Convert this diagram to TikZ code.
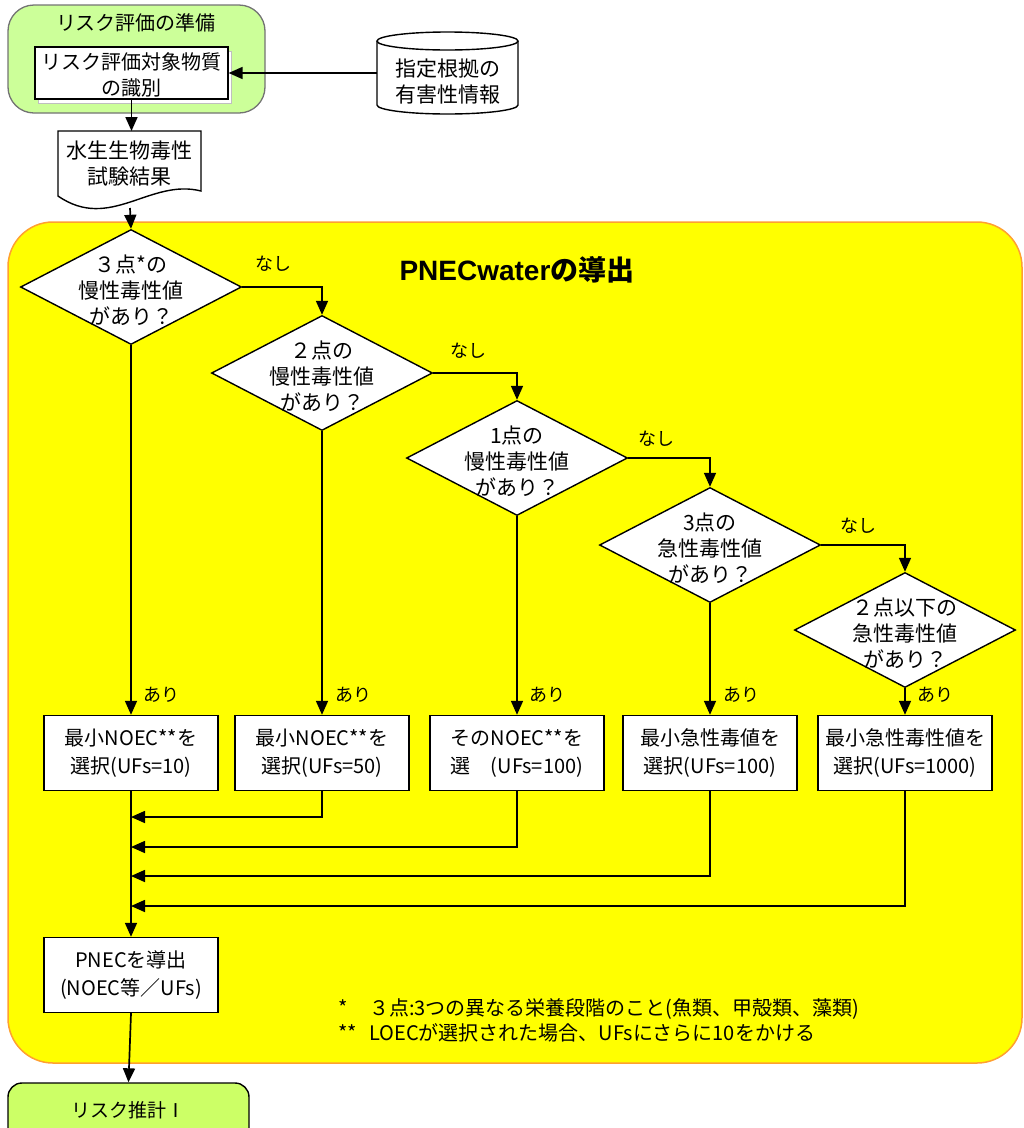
\documentclass[tikz,border=0pt]{standalone}
\usepackage{fontspec}
\setmainfont{Noto Sans CJK JP}
\newfontfamily\latbold{Liberation Sans Bold}
\usetikzlibrary{shapes.geometric,arrows.meta}
\definecolor{palegreen}{HTML}{CCFF99}
\definecolor{limegreen}{HTML}{CCFF66}
\definecolor{ylw}{HTML}{FFFF00}
\definecolor{orgline}{HTML}{FFA030}
\begin{document}
\begin{tikzpicture}[x=1pt,y=-1pt,
  conn/.style={line width=1.7pt},
  arr/.style={line width=1.7pt,-{Triangle[length=14pt,width=12pt]}},
  dia/.style={diamond,draw,fill=white,line width=1.4pt,minimum width=221pt,minimum height=115pt,inner sep=0pt},
  txt/.style={font=\fontsize{21}{26}\selectfont,align=center,inner sep=0pt},
  lbl/.style={font=\fontsize{18}{20}\selectfont,inner sep=0pt},
  resbox/.style={draw,fill=white,line width=1.4pt,minimum width=174pt,minimum height=75pt,inner sep=0pt,align=center,font=\fontsize{20}{28}\selectfont},
  note/.style={anchor=west,inner sep=0pt,font=\fontsize{20}{24}\selectfont}]
\clip (0,0) rectangle (1024,1128);
% top preparation box
\node[draw=black!55,line width=1.3pt,fill=palegreen,rounded corners=26pt,minimum width=257pt,minimum height=108pt] (prep) at (136.5,59) {};
\node[txt,font=\fontsize{20}{25}\selectfont] (prept) at (136,23) {リスク評価の準備};
\draw[black!25,fill=white,line width=1pt] (38,51) rectangle (231,103);
\node[draw,fill=white,line width=1.2pt,minimum width=193pt,minimum height=52pt,inner sep=0pt] (ident) at (131.5,73) {};
\node[txt,font=\fontsize{20}{26}\selectfont] (identt) at (131.5,75) {リスク評価対象物質\\の識別};
% database cylinder
\filldraw[fill=white,line width=1.4pt] (377,41) -- (377,105) arc[start angle=180,end angle=0,x radius=70.5,y radius=9] -- (518,41);
\filldraw[fill=white,line width=1.4pt] (447.5,41) ellipse[x radius=70.5,y radius=9];
\node[txt] (dbt) at (447.5,82) {指定根拠の\\有害性情報};
\coordinate (dbw) at (377,73);
% document
\filldraw[fill=white,line width=1.4pt] (58,131) -- (201,131) -- (201,191) .. controls (150,178) and (110,232) .. (58,196) -- cycle;
\node[txt] (doct) at (129.5,164) {水生生物毒性\\試験結果};
\coordinate (doctop) at (131.5,131);
\coordinate (docb) at (130,208);
% yellow area
\draw[draw=orgline,fill=ylw,line width=1.5pt,rounded corners=45pt] (8,222) rectangle (1022,1063);
\node (ttl) at (517,270) {\fontsize{28}{30}\selectfont\bfseries{\latbold PNECwater}の導出};
% diamonds
\node[dia] (d1) at (131,287) {};
\node[txt] (d1t) at (131,290) {３点*の\\慢性毒性値\\があり？};
\node[dia] (d2) at (322,373) {};
\node[txt] (d2t) at (322,376) {２点の\\慢性毒性値\\があり？};
\node[dia] (d3) at (517,458) {};
\node[txt] (d3t) at (517,461) {1点の\\慢性毒性値\\があり？};
\node[dia] (d4) at (710,545) {};
\node[txt] (d4t) at (710,548) {3点の\\急性毒性値\\があり？};
\node[dia] (d5) at (905,630) {};
\node[txt] (d5t) at (905,633) {２点以下の\\急性毒性値\\があり？};
% result boxes
\node[resbox] (b1) at (131,753) {最小NOEC**を\\選択(UFs=10)};
\node[resbox] (b2) at (322,753) {最小NOEC**を\\選択(UFs=50)};
\node[resbox] (b3) at (517,753) {そのNOEC**を\\選　(UFs=100)};
\node[resbox] (b4) at (710,753) {最小急性毒値を\\選択(UFs=100)};
\node[resbox] (b5) at (905,753) {最小急性毒性値を\\選択(UFs=1000)};
\node[resbox] (pn) at (131,975) {PNECを導出\\(NOEC等／UFs)};
% final box
\node[draw,line width=1.4pt,fill=limegreen,rounded corners=14pt,minimum width=241pt,minimum height=70pt] (fin) at (128.5,1118) {};
\node[txt,font=\fontsize{19}{22}\selectfont] (fint) at (128,1110) {リスク推計Ⅰ};
% connectors top
\draw[arr] (dbw) -- (ident.east);
\draw[arr] (ident.south) -- (doctop);
\draw[arr] (docb) -- (d1.north);
% no branches
\draw[arr] (d1.east) -| (d2.north);
\draw[arr] (d2.east) -| (d3.north);
\draw[arr] (d3.east) -| (d4.north);
\draw[arr] (d4.east) -| (d5.north);
\node[lbl] (n1) at (273,264) {なし};
\node[lbl] (n2) at (468,351) {なし};
\node[lbl] (n3) at (656,439) {なし};
\node[lbl] (n4) at (858,526) {なし};
% yes branches
\draw[arr] (d1.south) -- (b1.north);
\draw[arr] (d2.south) -- (b2.north);
\draw[arr] (d3.south) -- (b3.north);
\draw[arr] (d4.south) -- (b4.north);
\draw[arr] (d5.south) -- (b5.north);
\node[lbl] (y1) at (161,695) {あり};
\node[lbl] (y2) at (353,695) {あり};
\node[lbl] (y3) at (547,695) {あり};
\node[lbl] (y4) at (741,695) {あり};
\node[lbl] (y5) at (935,695) {あり};
% merges
\coordinate (m1) at (131,817);
\coordinate (m2) at (131,847);
\coordinate (m3) at (131,876);
\coordinate (m4) at (131,906);
\draw[arr] (b2.south) |- (m1);
\draw[arr] (b3.south) |- (m2);
\draw[arr] (b4.south) |- (m3);
\draw[arr] (b5.south) |- (m4);
\draw[arr] (b1.south) -- (pn.north);
\draw[arr] (pn.south) -- (fin.north);
% notes
\node[note] (fn1) at (338,1009) {\makebox[31pt][l]{*}３点:3つの異なる栄養段階のこと(魚類、甲殻類、藻類)};
\node[note] (fn2) at (338,1033) {\makebox[31pt][l]{**}LOECが選択された場合、UFsにさらに10をかける};
\end{tikzpicture}
\end{document}
